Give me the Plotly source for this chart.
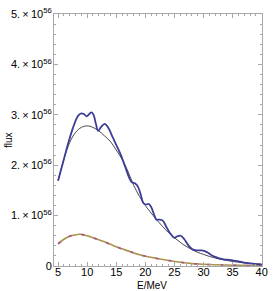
import plotly.graph_objects as go

# Energies (MeV) and fluxes (units of 1e56)
blue_E = [5, 6, 6.8, 7.5, 8.0, 8.5, 9.0, 9.5, 9.9, 10.4, 10.75, 11.1, 11.5, 11.9, 12.4, 13.0,
          13.6, 14.4, 15.1, 15.8, 16.5, 17.2, 17.7, 18.2, 18.7, 19.2, 19.6, 20.0, 20.6, 21.0,
          21.5, 21.9, 22.4, 23.0, 23.5, 24.2, 25.0, 25.5, 26.1, 26.7, 27.4, 28.1, 28.8, 29.7,
          30.5, 31.3, 32.0, 32.7, 33.5, 34.5, 35.5, 36.5, 37.5, 38.5, 39.5, 40]
blue_flux = [1.69, 2.12, 2.46, 2.72, 2.88, 2.99, 3.03, 3.01, 2.97, 3.02, 3.05, 3.0, 2.82, 2.68, 2.76, 2.82,
             2.75, 2.55, 2.38, 2.2, 1.98, 1.76, 1.66, 1.64, 1.58, 1.42, 1.26, 1.22, 1.23, 1.17,
             1.02, 0.92, 0.92, 0.9, 0.8, 0.66, 0.56, 0.59, 0.6, 0.53, 0.41, 0.33, 0.31, 0.31,
             0.28, 0.22, 0.18, 0.15, 0.13, 0.12, 0.10, 0.08, 0.06, 0.045, 0.035, 0.03]

black_E = [5, 6, 7, 8, 9, 10, 11, 12, 13, 14, 15, 16, 17, 18, 19, 20, 21, 22, 23, 24, 25,
           26, 27, 28, 29, 30, 31, 32, 33, 34, 35, 36, 37, 38, 39, 40]
black_flux = [1.69, 2.12, 2.45, 2.65, 2.75, 2.78, 2.75, 2.68, 2.58, 2.47, 2.3, 2.12, 1.88, 1.6, 1.38,
              1.2, 1.05, 0.91, 0.78, 0.66, 0.56, 0.47, 0.39, 0.33, 0.27, 0.23, 0.19, 0.16, 0.13,
              0.11, 0.09, 0.075, 0.06, 0.05, 0.04, 0.03]

dash_E = [5, 6, 7, 8, 8.8, 10, 11, 12, 13, 14, 15, 16, 17, 18, 19, 20, 22, 24, 26, 28, 30, 32, 35, 38, 40]
dash_flux = [0.44, 0.53, 0.59, 0.62, 0.63, 0.6, 0.56, 0.52, 0.48, 0.43, 0.38, 0.34, 0.3, 0.26, 0.225,
             0.195, 0.15, 0.11, 0.075, 0.048, 0.034, 0.025, 0.016, 0.01, 0.008]

x_ticks = [5, 10, 15, 20, 25, 30, 35, 40]
y_ticks = [0, 1, 2, 3, 4, 5]
y_ticktext = ["0"] + [f"{v}.\u2009×\u200910<sup>56</sup>" for v in y_ticks[1:]]

fig = go.Figure()
fig.add_trace(go.Scatter(x=dash_E, y=dash_flux, mode="lines", line_shape="spline",
                         line=dict(color="#A8944A", width=1.6)))
fig.add_trace(go.Scatter(x=dash_E, y=dash_flux, mode="lines", line_shape="spline",
                         line=dict(color="#B04C8C", width=1.6, dash="3px,10px")))
fig.add_trace(go.Scatter(x=black_E, y=black_flux, mode="lines", line_shape="spline",
                         line=dict(color="#333333", width=0.9)))
fig.add_trace(go.Scatter(x=blue_E, y=blue_flux, mode="lines", line_shape="spline",
                         line=dict(color="#3D3D99", width=1.8)))

axcol = "#A8A8A8"
fig.update_layout(
    width=274, height=291,
    margin=dict(l=54, r=6, t=6, b=25),
    paper_bgcolor="white", plot_bgcolor="white",
    showlegend=False, hovermode=False,
    font=dict(family="Liberation Sans, Arial, sans-serif", size=11, color="black"),
    xaxis=dict(range=[4.3, 40.05], tickvals=x_ticks, ticks="inside", ticklen=4, tickcolor=axcol,
               showline=True, linecolor=axcol, linewidth=1, mirror="ticks",
               showgrid=False, zeroline=False, ticklabelstandoff=-4, ticklabeloverflow="allow",
               minor=dict(ticks="inside", ticklen=2, dtick=1, tick0=0, tickcolor=axcol)),
    yaxis=dict(range=[0, 5], tickvals=y_ticks, ticktext=y_ticktext, ticks="inside", ticklen=4,
               tickcolor=axcol, showline=True, linecolor=axcol, linewidth=1, mirror="ticks",
               showgrid=False, zeroline=False, ticklabeloverflow="allow", ticklabelstandoff=-1,
               minor=dict(ticks="inside", ticklen=2, dtick=0.2, tick0=0, tickcolor=axcol)),
    annotations=[
        dict(text="E/MeV", xref="paper", yref="paper", x=0.47, y=0, yshift=-19,
             xanchor="center", yanchor="middle", showarrow=False, font=dict(size=10)),
        dict(text="flux", xref="paper", yref="paper", x=0, xshift=-46, y=0.5,
             xanchor="center", yanchor="middle", showarrow=False, textangle=-90,
             font=dict(size=10)),
    ],
)
fig.write_html("out.html", config={"displayModeBar": False, "staticPlot": True},
               post_script="document.body.style.margin='0';document.body.style.overflow='hidden';")
